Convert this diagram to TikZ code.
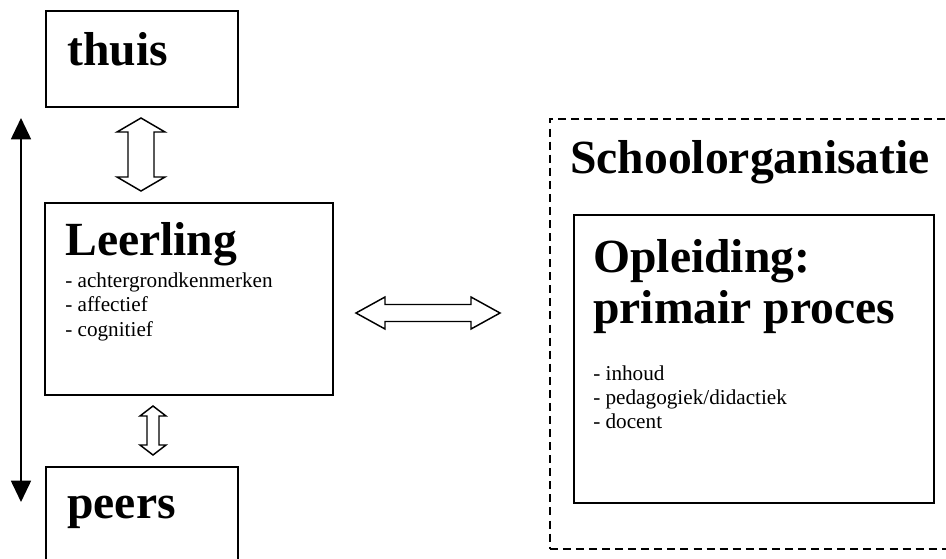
\documentclass[tikz,border=0pt]{standalone}
\usepackage{fontspec}
\setmainfont{Liberation Serif}
\usetikzlibrary{arrows.meta}

% outline of a hollow two-headed block arrow, centred on the origin, pointing along x
% #1 half length, #2 half shaft width, #3 half head width, #4 head length
\newcommand{\hollowdblarrow}[4]{%
  (-#1,0) -- (-#1+#4,#3) -- (-#1+#4,#2) -- (#1-#4,#2) -- (#1-#4,#3) -- (#1,0)
  -- (#1-#4,-#3) -- (#1-#4,-#2) -- (-#1+#4,-#2) -- (-#1+#4,-#3) -- cycle}

\tikzset{
  box/.style={draw, line width=1.4pt, rectangle, anchor=north west, inner sep=0pt},
  dashbox/.style={draw, line width=1.2pt, dash pattern=on 6pt off 3.8pt, rectangle,
    anchor=north west, inner sep=0pt},
  blockarrow/.style={draw, line width=1.1pt, fill=white, line join=miter},
  bigtitle/.style={anchor=base west, inner sep=0pt,
    font=\fontsize{35.7pt}{38.25pt}\selectfont\bfseries},
  itemtext/.style={anchor=base west, inner sep=0pt,
    font=\fontsize{15.9pt}{18.3pt}\selectfont},
}

\begin{document}
\begin{tikzpicture}[x=0.75pt,y=-0.75pt]
\path[use as bounding box] (0,0) rectangle (946,558);
\clip (0,0) rectangle (946,558);

% boxes
\node[box, minimum width=144pt, minimum height=72pt] (thuis) at (45,10) {};
\node[box, minimum width=216pt, minimum height=144pt] (leerling) at (44,202) {};
\node[box, minimum width=144pt, minimum height=90pt] (peers) at (45,466) {};
\node[dashbox, minimum width=330pt, minimum height=322.5pt] (school) at (549,118) {};
\node[box, minimum width=270pt, minimum height=216pt] (opleiding) at (573,214) {};

% texts
\node[bigtitle] (t-thuis) at (67,65) {thuis};
\node[bigtitle] (t-leerling) at (65,255) {Leerling};
\node[itemtext] (l1) at (65,287) {- achtergrondkenmerken};
\node[itemtext] (l2) at (65,311.5) {- affectief};
\node[itemtext] (l3) at (65,336) {- cognitief};
\node[bigtitle] (t-peers) at (67,518) {peers};

\node[bigtitle] (t-school) at (570,173) {Schoolorganisatie};
\node[bigtitle] (t-opl1) at (593,272) {Opleiding:};
\node[bigtitle] (t-opl2) at (593,323) {primair proces};
\node[itemtext] (o1) at (593,380) {- inhoud};
\node[itemtext] (o2) at (593,404) {- pedagogiek/didactiek};
\node[itemtext] (o3) at (593,428) {- docent};

% block arrows between the boxes
\coordinate (arrTL) at (141,154.5);
\coordinate (arrLP) at (153,430.5);
\coordinate (arrLO) at (428,313);
\begin{scope}[shift={(arrTL)}, rotate=90]
  \draw[blockarrow] \hollowdblarrow{36.5}{13}{24}{14};
\end{scope}
\begin{scope}[shift={(arrLP)}, rotate=90]
  \draw[blockarrow] \hollowdblarrow{24.5}{6}{13}{10};
\end{scope}
\begin{scope}[shift={(arrLO)}]
  \draw[blockarrow] \hollowdblarrow{72}{8.5}{16}{29};
\end{scope}

% long two-headed arrow on the left
\coordinate (vtop) at (21,118);
\coordinate (vbot) at (21,502);
\draw[line width=1.3pt, {Triangle[width=15pt,length=16pt]}-{Triangle[width=15pt,length=16pt]}]
  (vtop) -- (vbot);
\end{tikzpicture}
\end{document}
